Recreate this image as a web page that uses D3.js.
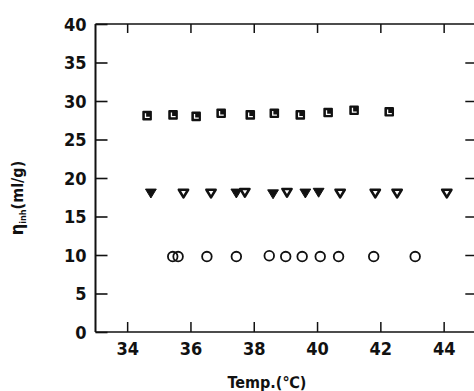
<!DOCTYPE html>
<html>
<head>
<meta charset="utf-8">
<script src="https://cdn.jsdelivr.net/npm/d3@7"></script>
<style>
  html, body { margin: 0; padding: 0; background: #fff; }
  svg { display: block; }
  .tick-label { font-family: "DejaVu Sans Condensed", "Liberation Sans Narrow", "Liberation Sans", Arial, sans-serif; font-weight: bold; font-size: 18px; fill: #111; }
  .axis-title { font-family: "DejaVu Sans Condensed", "Liberation Sans Narrow", "Liberation Sans", Arial, sans-serif; font-weight: bold; font-size: 16px; fill: #111; }
</style>
</head>
<body>
<script>
// Inherent viscosity versus temperature
const xTicks = [34, 36, 38, 40, 42, 44];
const yTicks = [0, 5, 10, 15, 20, 25, 30, 35, 40];

// square markers
const squareTemp = [34.63, 35.45, 36.18, 36.97, 37.89, 38.65, 39.47, 40.35, 41.17, 42.28];
const squareEta  = [28.1, 28.2, 28.0, 28.4, 28.2, 28.4, 28.2, 28.5, 28.8, 28.6];

// filled down-triangles
const filledTriTemp = [34.75, 37.45, 38.61, 39.63, 40.05];
const filledTriEta  = [18.0, 18.0, 17.9, 18.0, 18.1];

// open down-triangles
const openTriTemp = [35.78, 36.65, 37.72, 39.05, 40.73, 41.84, 42.53, 44.10];
const openTriEta  = [18.0, 18.0, 18.1, 18.1, 18.0, 18.0, 18.0, 18.0];

// open circles
const circleTemp = [35.44, 35.61, 36.52, 37.45, 38.49, 39.01, 39.53, 40.10, 40.68, 41.79, 43.10];
const circleEta  = [9.8, 9.8, 9.8, 9.8, 9.9, 9.8, 9.8, 9.8, 9.8, 9.8, 9.8];

const W = 474, H = 391;
const margin = { left: 95.5, top: 24, right: -1.3, bottom: 59 };

const svg = d3.select("body").append("svg").attr("width", W).attr("height", H);

const x = d3.scaleLinear().domain([33, 45]).range([margin.left, W - margin.right]);
const y = d3.scaleLinear().domain([0, 40]).range([H - margin.bottom, margin.top]);

const plotBottom = y(0), plotTop = y(40), plotLeft = x(33), plotRight = x(45);

// frame
const frame = svg.append("g").attr("stroke", "#111").attr("fill", "none");
frame.append("line").attr("x1", plotLeft).attr("x2", plotLeft).attr("y1", plotTop).attr("y2", plotBottom).attr("stroke-width", 2);
frame.append("line").attr("x1", plotLeft).attr("x2", plotRight).attr("y1", plotBottom).attr("y2", plotBottom).attr("stroke-width", 1.6);
frame.append("line").attr("x1", plotLeft).attr("x2", plotRight).attr("y1", plotTop).attr("y2", plotTop).attr("stroke-width", 1.6);
frame.append("line").attr("x1", plotRight).attr("x2", plotRight).attr("y1", plotTop).attr("y2", plotBottom).attr("stroke-width", 1.6);

// bottom axis: inward ticks + labels
const xAxis = d3.axisBottom(x).tickValues(xTicks).tickSizeInner(-10).tickSizeOuter(0).tickPadding(10);
const gx = svg.append("g").attr("transform", `translate(0,${plotBottom})`).call(xAxis);
gx.select(".domain").remove();
gx.selectAll(".tick line").attr("stroke", "#111").attr("stroke-width", 1.5);
gx.selectAll(".tick text").attr("class", "tick-label").attr("font-size", null).attr("font-family", null);

// top axis: inward ticks only
const xTop = d3.axisTop(x).tickValues(xTicks).tickSizeInner(-9).tickSizeOuter(0).tickFormat("");
const gxt = svg.append("g").attr("transform", `translate(0,${plotTop})`).call(xTop);
gxt.select(".domain").remove();
gxt.selectAll(".tick line").attr("stroke", "#111").attr("stroke-width", 1.5);

// left axis: inward ticks + labels
const yAxis = d3.axisLeft(y).tickValues(yTicks).tickSizeInner(-12).tickSizeOuter(0).tickPadding(9);
const gy = svg.append("g").attr("transform", `translate(${plotLeft},0)`).call(yAxis);
gy.select(".domain").remove();
gy.selectAll(".tick line").attr("stroke", "#111").attr("stroke-width", 1.6);
gy.selectAll(".tick text").attr("class", "tick-label").attr("font-size", null).attr("font-family", null).attr("dy", "0.36em");

// right axis: inward ticks only
const yRight = d3.axisRight(y).tickValues(yTicks.slice(1, -1)).tickSizeInner(-10).tickSizeOuter(0).tickFormat("");
const gyr = svg.append("g").attr("transform", `translate(${plotRight},0)`).call(yRight);
gyr.select(".domain").remove();
gyr.selectAll(".tick line").attr("stroke", "#111").attr("stroke-width", 1.5);

// axis titles
svg.append("text").attr("class", "axis-title")
  .attr("x", 267).attr("y", 388)
  .attr("text-anchor", "middle")
  .text("Temp.(℃)");

const yTitle = svg.append("text").attr("class", "axis-title")
  .attr("transform", `translate(23,${(plotTop + plotBottom) / 2 + 20}) rotate(-90)`)
  .attr("text-anchor", "middle");
yTitle.append("tspan").attr("font-size", "18px").text("η");
yTitle.append("tspan").attr("font-size", "9px").attr("dy", "3").text("inh");
yTitle.append("tspan").attr("dy", "-3").text("(ml/g)");

// markers
const zip = (a, b) => a.map((v, i) => [v, b[i]]);
const tri = (s) => `M${-s},${-s * 0.8}L${s},${-s * 0.8}L0,${s * 0.85}Z`;

const marks = svg.append("g");

// squares: dark boxes with a light inner corner
const sq = marks.selectAll(".sq").data(zip(squareTemp, squareEta)).join("g")
  .attr("transform", d => `translate(${x(d[0])},${y(d[1])})`);
sq.append("rect").attr("x", -4.8).attr("y", -4.8).attr("width", 9.6).attr("height", 9.6)
  .attr("rx", 1).attr("fill", "#111");
sq.append("path").attr("d", "M-1.6,-2.4V1.8H2.6").attr("fill", "none")
  .attr("stroke", "#fff").attr("stroke-width", 1.3);

marks.selectAll(".ft").data(zip(filledTriTemp, filledTriEta)).join("path")
  .attr("transform", d => `translate(${x(d[0])},${y(d[1])})`)
  .attr("d", tri(5.4)).attr("fill", "#111").attr("stroke", "#111").attr("stroke-width", 1);

marks.selectAll(".ot").data(zip(openTriTemp, openTriEta)).join("path")
  .attr("transform", d => `translate(${x(d[0])},${y(d[1])})`)
  .attr("d", tri(4.6)).attr("fill", "#fff").attr("stroke", "#111").attr("stroke-width", 2.6)
  .attr("stroke-linejoin", "round");

marks.selectAll(".ci").data(zip(circleTemp, circleEta)).join("circle")
  .attr("cx", d => x(d[0])).attr("cy", d => y(d[1])).attr("r", 4.8)
  .attr("fill", "none").attr("stroke", "#111").attr("stroke-width", 1.8);
</script>
</body>
</html>
